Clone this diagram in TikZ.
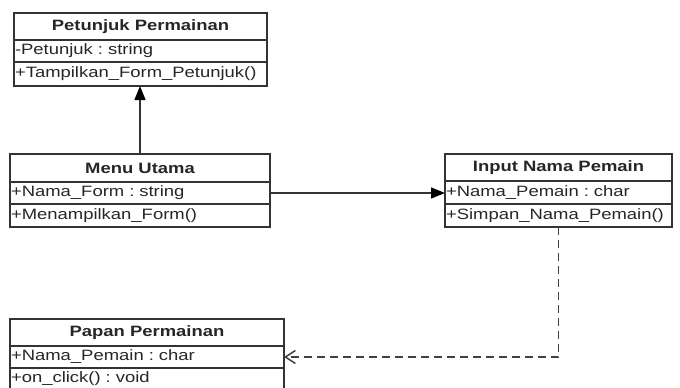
\documentclass[tikz,border=0pt]{standalone}
\usepackage{fontspec}
\setmainfont{Liberation Sans}[FakeStretch=1.23]
\usetikzlibrary{arrows.meta,positioning}

\begin{document}
\frenchspacing
\begin{tikzpicture}[x=1pt, y=-1pt,
  line width=1.3pt,
  head/.style={draw=black!80, anchor=north west, minimum height=27pt, inner xsep=0pt,
    outer sep=0pt, text=black!85, font=\fontsize{15}{16}\selectfont\bfseries},
  row/.style={draw=black!80, anchor=north west, minimum height=22pt, inner xsep=1pt,
    outer sep=0pt, text width=#1, align=left, text=black!85, font=\fontsize{15}{16}\selectfont},
  arrow/.style={draw=black!80, -{Triangle[length=14pt, width=11pt, color=black]}},
  deparrow/.style={draw=black!75, line width=1.5pt, dash pattern=on 8pt off 5pt,
    -{Straight Barb[length=10pt, width=13pt]}}
]
\useasboundingbox (0,0) rectangle (680,388);
\clip (0,0) rectangle (680,388);

% Petunjuk Permainan
\node[head, minimum width=253pt] (ptj) at (14,13) {Petunjuk Permainan};
\node[row=251pt] (ptjattr) at (ptj.south west) {-Petunjuk : string};
\node[row=251pt, minimum height=24pt] (ptjop) at (ptjattr.south west) {+Tampilkan\_Form\_Petunjuk()};

% Menu Utama
\node[head, minimum width=260pt, minimum height=28pt] (menu) at (10,154) {Menu Utama};
\node[row=258pt] (menuattr) at (menu.south west) {+Nama\_Form : string};
\node[row=258pt, minimum height=23pt] (menuop) at (menuattr.south west) {+Menampilkan\_Form()};

% Input Nama Pemain
\node[head, minimum width=227pt] (inp) at (445,154) {Input Nama Pemain};
\node[row=225pt, minimum height=23pt] (inpattr) at (inp.south west) {+Nama\_Pemain : char};
\node[row=225pt, minimum height=23pt] (inpop) at (inpattr.south west) {+Simpan\_Nama\_Pemain()};

% Papan Permainan
\node[head, minimum width=274pt] (pap) at (10,319) {Papan Permainan};
\node[row=272pt] (papattr) at (pap.south west) {+Nama\_Pemain : char};
\node[row=272pt] (papop) at (papattr.south west) {+on\_click() : void};

\draw[arrow] (menu.north) -- (menu.north |- ptjop.south);
\draw[arrow] (menuattr.east) -- (menuattr.east -| inpattr.west);
\draw[deparrow] (inpop.south) |- (papattr.east);
\end{tikzpicture}
\end{document}
